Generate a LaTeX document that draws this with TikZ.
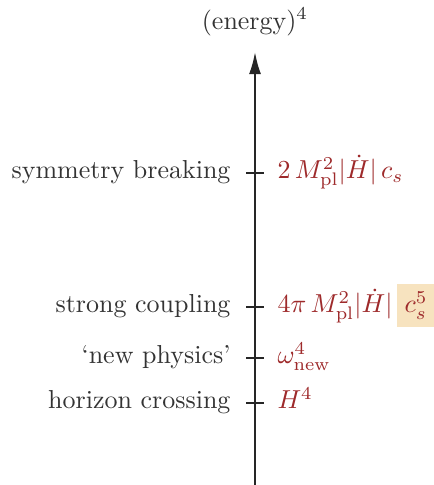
\documentclass[tikz,border=0pt]{standalone}
\usetikzlibrary{arrows.meta}
\definecolor{labelgray}{HTML}{333333}
\definecolor{scalered}{HTML}{9E2A2B}
\definecolor{hilite}{HTML}{F7E3BF}
\begin{document}
\begin{tikzpicture}[x=0.385pt,y=-0.385pt,
  leftlab/.style={anchor=mid east,text=labelgray,inner sep=0pt},
  rightlab/.style={anchor=mid west,text=scalered,inner sep=0pt},
  tickmark/.style={line width=0.75pt,draw=black!85},
  axisline/.style={line width=0.75pt,draw=black!85,-{Latex[length=8.5pt,width=4.6pt]}}]
\useasboundingbox (0,0) rectangle (433,485);
\coordinate (bot) at (255,485);
\coordinate (top) at (255,52);
\draw[axisline] (bot) -- (top);
\node[text=labelgray,inner sep=0pt] (title) at (255,22) {(energy)$^4$};
% ticks
\coordinate (t1l) at (246,173); \coordinate (t1r) at (264,173);
\coordinate (t2l) at (246,307); \coordinate (t2r) at (264,307);
\coordinate (t3l) at (246,358); \coordinate (t3r) at (264,358);
\coordinate (t4l) at (246,403); \coordinate (t4r) at (264,403);
\draw[tickmark] (t1l) -- (t1r);
\draw[tickmark] (t2l) -- (t2r);
\draw[tickmark] (t3l) -- (t3r);
\draw[tickmark] (t4l) -- (t4r);
% left labels
\node[leftlab] (l1) at (231,173) {symmetry breaking};
\node[leftlab] (l2) at (231,307) {strong coupling};
\node[leftlab] (l3) at (231,358) {`new physics'};
\node[leftlab] (l4) at (231,403) {horizon crossing};
% right labels
\node[rightlab] (r1) at (277,173) {$2\,M_{\mathrm{pl}}^2|\dot H|\,c_s$};
\node[rightlab] (r2) at (277,307) {$4\pi\,M_{\mathrm{pl}}^2|\dot H|\,\colorbox{hilite}{$c_s^5$}$};
\node[rightlab] (r3) at (277,358) {$\omega_{\mathrm{new}}^4$};
\node[rightlab] (r4) at (277,403) {$H^4$};
\end{tikzpicture}
\end{document}
